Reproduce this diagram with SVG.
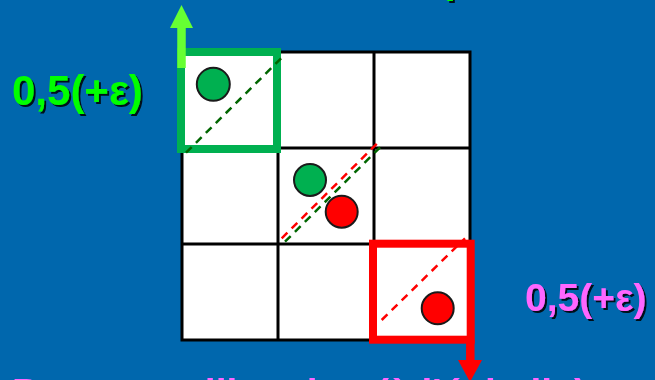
<svg xmlns="http://www.w3.org/2000/svg" width="655" height="380" viewBox="0 0 655 380">
<defs>
<filter id="sh" x="-10%" y="-10%" width="130%" height="140%">
<feDropShadow dx="2" dy="2" stdDeviation="0.4" flood-color="#000" flood-opacity="0.85"/>
</filter>
</defs>
<style>
.lbl{font-family:"Liberation Sans",Arial,sans-serif;font-weight:bold;filter:url(#sh)}
.grid{fill:none;stroke:#000;stroke-width:3}
.cell{fill:#fff}
.dg{stroke:#006600;stroke-width:2.5;stroke-dasharray:8 6;fill:none}
.dr{stroke:#ff0000;stroke-width:2.5;stroke-dasharray:8 6;fill:none}
.gc{fill:#00b050;stroke:#1a1a1a;stroke-width:2}
.rc{fill:#ff0000;stroke:#1a1a1a;stroke-width:2}
</style>
<rect width="655" height="380" fill="#0067ad"/>
<text class="lbl" x="444.6" y="-7.5" font-size="40" fill="#00ff00">p</text>
<g id="grid">
<rect class="cell" x="182" y="52" width="288" height="288"/>
<rect class="grid" x="182" y="52" width="288" height="288"/>
<line class="grid" x1="278" y1="52" x2="278" y2="340"/>
<line class="grid" x1="374" y1="52" x2="374" y2="340"/>
<line class="grid" x1="182" y1="148" x2="470" y2="148"/>
<line class="grid" x1="182" y1="244" x2="470" y2="244"/>
</g>
<g id="cell-top-left">
<rect x="181" y="52" width="96" height="97" fill="#fff" stroke="#00b050" stroke-width="8"/>
<line class="dg" x1="186" y1="152.7" x2="282.7" y2="56.7"/>
<circle class="gc" cx="213.3" cy="84.3" r="16.5"/>
</g>
<g id="cell-middle">
<line class="dr" x1="281.7" y1="238.3" x2="377.3" y2="143.3"/>
<line class="dg" x1="285" y1="241.7" x2="380.7" y2="146.7"/>
<circle class="gc" cx="310" cy="180" r="16"/>
<circle class="rc" cx="341.7" cy="211.7" r="16"/>
</g>
<g id="cell-bottom-right">
<rect x="373" y="243.7" width="97.7" height="96" fill="#fff" stroke="#ff0000" stroke-width="8"/>
<line class="dr" x1="381.7" y1="320" x2="465" y2="238.3"/>
<circle class="rc" cx="437.7" cy="308.3" r="16"/>
</g>
<g id="connectors">
<line x1="181.5" y1="68" x2="181.5" y2="27" stroke="#66ff33" stroke-width="8.5"/>
<polygon points="170,28 193,28 181.5,5" fill="#66ff33"/>
<line x1="470.3" y1="340" x2="470.3" y2="361" stroke="#ff0000" stroke-width="8.5"/>
<polygon points="458,360 482,360 470,382" fill="#ff0000"/>
</g>
<g id="labels">
<text class="lbl" x="12" y="105" font-size="42" fill="#00ff00">0,5(+ε)</text>
<text class="lbl" x="525" y="311" font-size="39" fill="#ff66ff">0,5(+ε)</text>
<text class="lbl" x="12" y="405.5" font-size="39" fill="#ff66ff">Pour une dilatation (à l'échelle)</text>
</g>
</svg>
